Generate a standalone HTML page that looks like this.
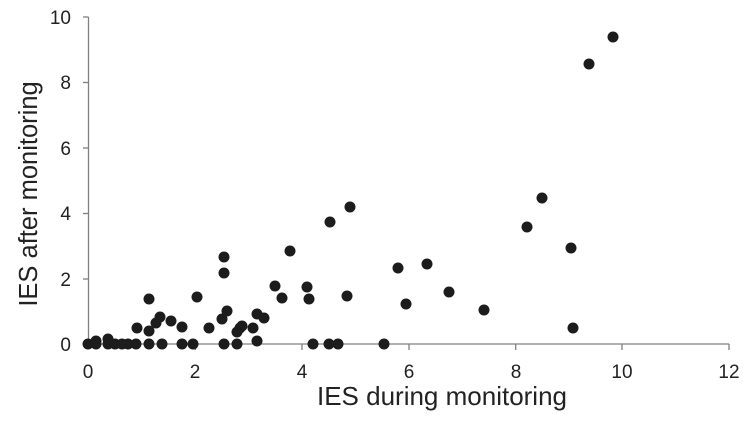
<!DOCTYPE html><html><head><style>body{margin:0;background:#fff}svg{display:block}</style></head><body>
<svg width="750" height="421" xmlns="http://www.w3.org/2000/svg" font-family="Liberation Sans, Arial, sans-serif">
<g stroke="#808080" stroke-width="1.3" fill="none">
<line x1="88.5" y1="17" x2="88.5" y2="344"/>
<line x1="88.5" y1="344" x2="729" y2="344"/>
<line x1="83" y1="344" x2="88.5" y2="344"/><line x1="83" y1="279" x2="88.5" y2="279"/><line x1="83" y1="213.5" x2="88.5" y2="213.5"/><line x1="83" y1="148" x2="88.5" y2="148"/><line x1="83" y1="82.5" x2="88.5" y2="82.5"/><line x1="83" y1="17" x2="88.5" y2="17"/>
<line x1="195.3" y1="344" x2="195.3" y2="350"/><line x1="302" y1="344" x2="302" y2="350"/><line x1="409" y1="344" x2="409" y2="350"/><line x1="515.7" y1="344" x2="515.7" y2="350"/><line x1="622" y1="344" x2="622" y2="350"/><line x1="729" y1="344" x2="729" y2="350"/>
</g>
<g font-size="19" fill="#222" text-anchor="end">
<text x="71" y="351">0</text><text x="71" y="286">2</text><text x="71" y="220">4</text><text x="71" y="155">6</text><text x="71" y="89">8</text><text x="71" y="24">10</text>
</g>
<g font-size="19" fill="#222" text-anchor="middle">
<text x="88" y="378">0</text><text x="195" y="378">2</text><text x="302" y="378">4</text><text x="409" y="378">6</text><text x="516" y="378">8</text><text x="622" y="378">10</text><text x="729" y="378">12</text>
</g>
<text x="442" y="405" font-size="26" fill="#222" text-anchor="middle">IES during monitoring</text>
<text transform="translate(37,194) rotate(-90)" font-size="25.5" fill="#222" text-anchor="middle">IES after monitoring</text>
<g fill="#1c1c1c">
<circle cx="88" cy="344" r="5.5"/><circle cx="96" cy="341" r="5.5"/><circle cx="96" cy="344" r="5.5"/><circle cx="108" cy="339" r="5.5"/><circle cx="108" cy="344" r="5.5"/><circle cx="115" cy="344" r="5.5"/><circle cx="122" cy="344" r="5.5"/><circle cx="128" cy="344" r="5.5"/><circle cx="136" cy="344" r="5.5"/><circle cx="137" cy="328" r="5.5"/><circle cx="149" cy="331" r="5.5"/><circle cx="149" cy="344" r="5.5"/><circle cx="149" cy="299" r="5.5"/><circle cx="156" cy="323" r="5.5"/><circle cx="160" cy="317" r="5.5"/><circle cx="162" cy="344" r="5.5"/><circle cx="171" cy="321" r="5.5"/><circle cx="182" cy="327" r="5.5"/><circle cx="182" cy="344" r="5.5"/><circle cx="193" cy="344" r="5.5"/><circle cx="197" cy="297" r="5.5"/><circle cx="209" cy="328" r="5.5"/><circle cx="222" cy="319" r="5.5"/><circle cx="224" cy="273" r="5.5"/><circle cx="224" cy="257" r="5.5"/><circle cx="224" cy="344" r="5.5"/><circle cx="227" cy="311" r="5.5"/><circle cx="237" cy="332" r="5.5"/><circle cx="237" cy="344" r="5.5"/><circle cx="240" cy="328" r="5.5"/><circle cx="242" cy="326" r="5.5"/><circle cx="253" cy="328" r="5.5"/><circle cx="257" cy="341" r="5.5"/><circle cx="257" cy="314" r="5.5"/><circle cx="264" cy="318" r="5.5"/><circle cx="275" cy="286" r="5.5"/><circle cx="282" cy="298" r="5.5"/><circle cx="290" cy="251" r="5.5"/><circle cx="307" cy="287" r="5.5"/><circle cx="309" cy="299" r="5.5"/><circle cx="313" cy="344" r="5.5"/><circle cx="329" cy="344" r="5.5"/><circle cx="330" cy="222" r="5.5"/><circle cx="338" cy="344" r="5.5"/><circle cx="347" cy="296" r="5.5"/><circle cx="350" cy="207" r="5.5"/><circle cx="384" cy="344" r="5.5"/><circle cx="398" cy="268" r="5.5"/><circle cx="406" cy="304" r="5.5"/><circle cx="427" cy="264" r="5.5"/><circle cx="449" cy="292" r="5.5"/><circle cx="484" cy="310" r="5.5"/><circle cx="527" cy="227" r="5.5"/><circle cx="542" cy="198" r="5.5"/><circle cx="571" cy="248" r="5.5"/><circle cx="573" cy="328" r="5.5"/><circle cx="589" cy="64" r="5.5"/><circle cx="613" cy="37" r="5.5"/>
</g>
</svg>
</body></html>
